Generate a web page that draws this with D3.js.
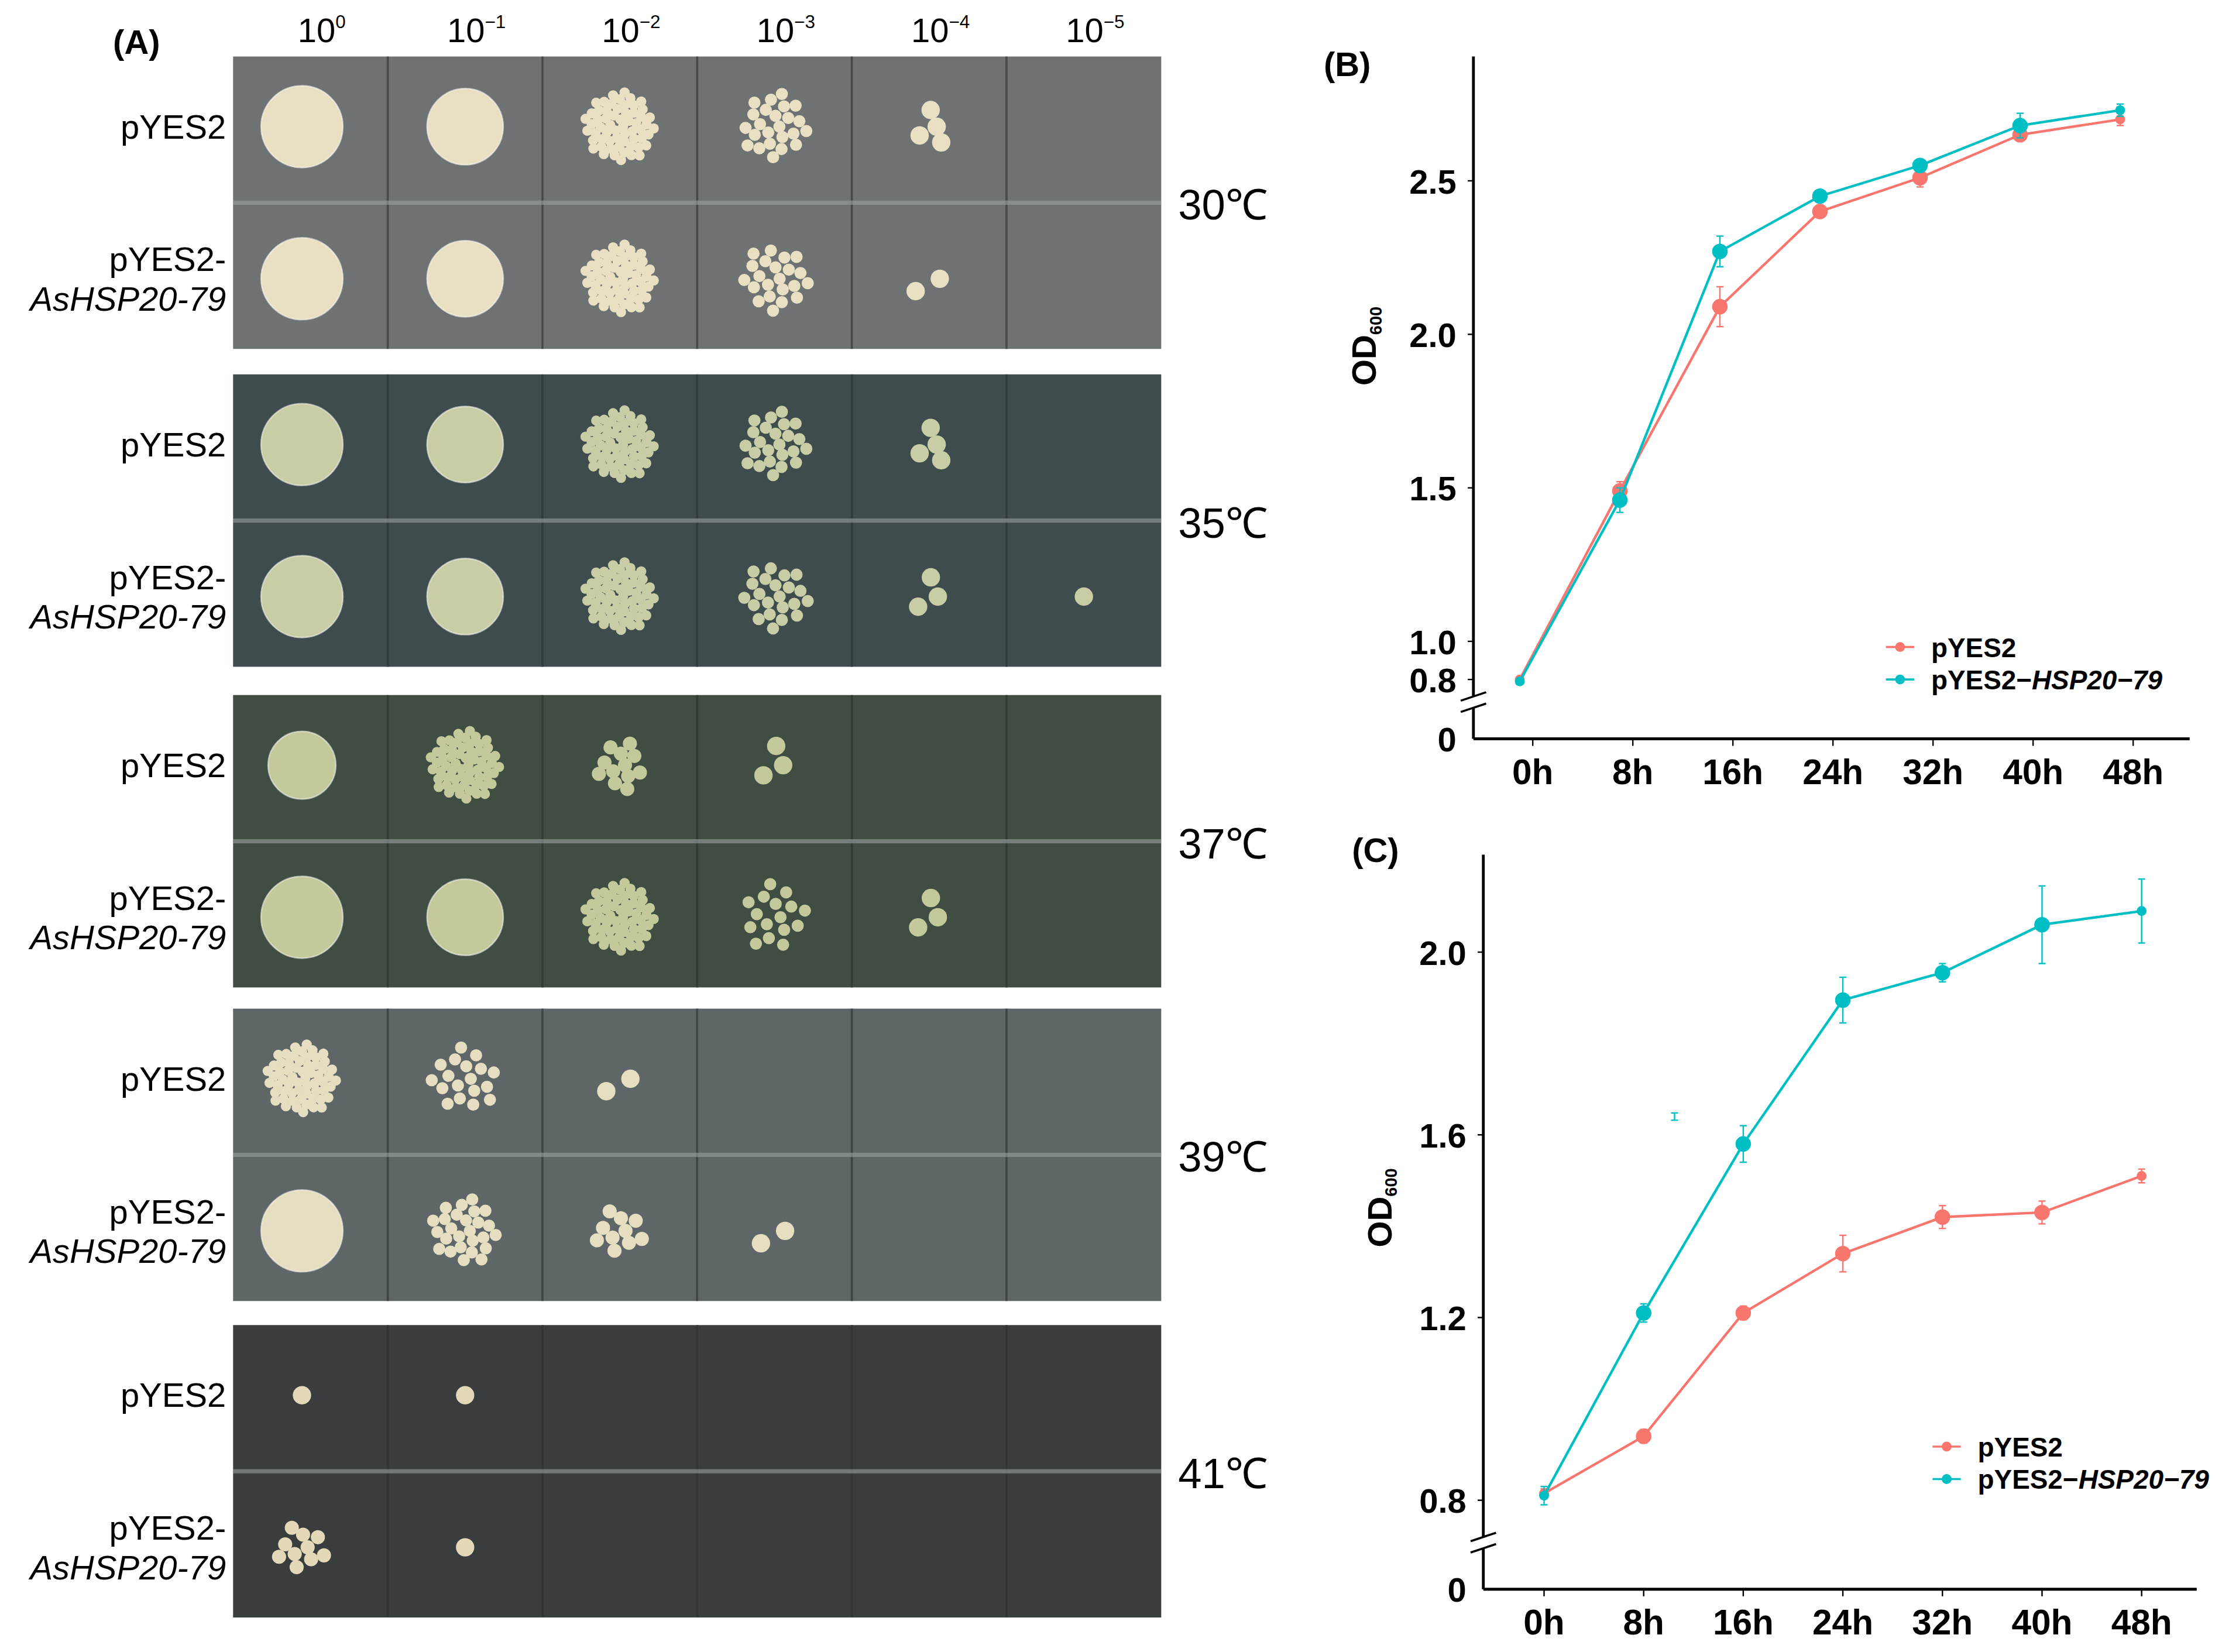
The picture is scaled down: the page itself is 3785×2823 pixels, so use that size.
<!DOCTYPE html>
<html><head><meta charset="utf-8">
<script src="https://cdn.jsdelivr.net/npm/d3@7"></script>
<style>body{margin:0;background:#fff}</style></head>
<body><svg id="c" width="3785" height="2823"></svg>
<script>
// ---------- DATA ----------
const dilutions = ["0","−1","−2","−3","−4","−5"];
const strains = ["pYES2", "AsHSP20-79"];
const temps = ["30℃","35℃","37℃","39℃","41℃"];
// growth per cell: "S" solid spot, "D" dense spot, number = count of colonies
const growth30 = [["S","S","D",24,4,0],["S","S","D",22,2,0]];
const growth35 = [["S","S","D",24,4,0],["S","S","D",22,3,1]];
const growth37 = [["S","D",12,3,0,0],["S","S","D",16,3,0]];
const growth39 = [["D",18,2,0,0,0],["S",26,10,2,0,0]];
const growth41 = [[1,1,0,0,0,0],[10,1,0,0,0,0]];
const growthAll = [growth30,growth35,growth37,growth39,growth41];
const plateColors = ["#6e7273","#3f4c4d","#3f4d42","#5f6668","#3a3d3e"];
const spotColors = ["#e9e0c4","#c9cda6","#c4c99c","#e6dec0","#e3d8b8"];

const hours = ["0h","8h","16h","24h","32h","40h","48h"];
const bRed  = [0.80,1.49,2.09,2.40,2.51,2.65,2.70];
const bRedE = [0.01,0.03,0.065,0.02,0.03,0.015,0.02];
const bCyan = [0.79,1.46,2.27,2.45,2.55,2.68,2.73];
const bCyanE= [0.015,0.04,0.05,0.02,0.02,0.04,0.02];
const cRed  = [0.815,0.94,1.21,1.34,1.42,1.43,1.51];
const cRedE = [0.01,0.015,0.015,0.04,0.025,0.025,0.015];
const cCyan = [0.81,1.21,1.58,1.895,1.955,2.06,2.09];
const cCyanE= [0.02,0.02,0.04,0.05,0.02,0.085,0.07];
const bTicks = [0.8,1.0,1.5,2.0,2.5];
const cTicks = [0.8,1.2,1.6,2.0];
const RED="#f8766d", CYAN="#00bfc4";

// ---------- DRAW ----------
const svg = d3.select("#c");
const g = svg.append("g").attr("transform","scale(2.414)");
const narrow = "'Liberation Sans Narrow','Liberation Sans',Arial,sans-serif";
const bold = "'Liberation Sans',Arial,sans-serif";

// Panel A
const plateX = d3.scaleBand().domain(d3.range(6)).range([165,822]);
const plateTops = [40,265,492,714,938], plateH = 207;
g.append("text").attr("x",80).attr("y",38).text("(A)").attr("font-family",bold)
 .attr("font-weight","bold").attr("font-size",24);
dilutions.forEach((d,i)=>{
  const t=g.append("text").attr("x",plateX(i)+plateX.bandwidth()/2+8).attr("y",30)
   .attr("text-anchor","middle").attr("font-family",narrow).attr("font-size",24);
  t.append("tspan").text("10");
  t.append("tspan").text(d).attr("font-size",13).attr("dy",-10);
});
function colonies(n,R){
  const out=[];const cr = n===1?7: Math.max(4.2, R*0.95/Math.sqrt(n));
  for(let i=0;i<n;i++){const r=n===1?0:R*Math.sqrt((i+0.5)/n);const a=i*2.39996;
    out.push([r*Math.cos(a),r*Math.sin(a),cr]);}
  return out;
}
growthAll.forEach((pl,p)=>{
  const y0=plateTops[p];
  const pg=g.append("g");
  pg.append("rect").attr("x",165).attr("y",y0).attr("width",657).attr("height",plateH).attr("fill",plateColors[p]);
  d3.range(1,6).forEach(i=>pg.append("line").attr("x1",plateX(i)).attr("x2",plateX(i))
    .attr("y1",y0).attr("y2",y0+plateH).attr("stroke","#2c3030").attr("stroke-width",1.5).attr("opacity",0.6));
  pg.append("rect").attr("x",165).attr("y",y0+plateH/2-1.5).attr("width",657).attr("height",3)
    .attr("fill","#9aa0a0").attr("opacity",0.6);
  pl.forEach((row,r)=>{
    const cy=y0+plateH*(r===0?0.24:0.76);
    row.forEach((v,c)=>{
      const cx=plateX(c)+plateX.bandwidth()/2+ (c===0?-6:0);
      if(v==="S"){pg.append("circle").attr("cx",cx).attr("cy",cy).attr("r",p===2&&r===0?24:(c===1?27:29))
          .attr("fill",spotColors[p]).attr("stroke","#fff8").attr("stroke-width",1);}
      else if(v==="D"){
        pg.append("circle").attr("cx",cx).attr("cy",cy).attr("r",26).attr("fill",plateColors[p]).attr("opacity",0.5);
        colonies(60,25).forEach(q=>pg.append("circle").attr("cx",cx+q[0]).attr("cy",cy+q[1]).attr("r",3.6).attr("fill",spotColors[p]));}
      else if(v>0){
        const R = v>15?24: v>5?18: 15;
        colonies(v,R).forEach(q=>pg.append("circle").attr("cx",cx+q[0]).attr("cy",cy+q[1]).attr("r",v>15?4.3:v>5?5:6.5).attr("fill",spotColors[p]));}
    });
  });
  const lab=(y,txt,it)=>g.append("text").attr("x",160).attr("y",y).attr("text-anchor","end")
    .attr("font-family",narrow).attr("font-size",24).attr("font-style",it?"italic":"normal").text(txt);
  lab(y0+58,strains[0]);
  lab(y0+152,"pYES2-");
  lab(y0+180,strains[1],true);
  g.append("text").attr("x",834).attr("y",y0+plateH/2+12).attr("font-family",narrow)
   .attr("font-size",30).text(temps[p]);
});

function chart(o){
  const y=o.y, x=d3.scalePoint().domain(hours).range(o.xr);
  const pg=g.append("g");
  pg.append("text").attr("x",o.lab[0]).attr("y",o.lab[1]).text(o.title).attr("font-family",bold)
    .attr("font-weight","bold").attr("font-size",24);
  pg.append("line").attr("x1",o.ax).attr("x2",o.ax).attr("y1",o.top).attr("y2",o.brk-4).attr("stroke","#000").attr("stroke-width",2);
  pg.append("line").attr("x1",o.ax).attr("x2",o.ax).attr("y1",o.brk+4).attr("y2",o.base).attr("stroke","#000").attr("stroke-width",2);
  [-4,4].forEach(d=>pg.append("line").attr("x1",o.ax-9).attr("x2",o.ax+9).attr("y1",o.brk+d+3).attr("y2",o.brk+d-3).attr("stroke","#000").attr("stroke-width",1.5));
  pg.append("line").attr("x1",o.ax).attr("x2",o.xend).attr("y1",o.base).attr("y2",o.base).attr("stroke","#000").attr("stroke-width",2);
  o.ticks.forEach(t=>{pg.append("line").attr("x1",o.ax-4).attr("x2",o.ax).attr("y1",y(t)).attr("y2",y(t)).attr("stroke","#000");
    pg.append("text").attr("x",o.ax-12).attr("y",y(t)+9).attr("text-anchor","end").attr("font-family",bold)
     .attr("font-weight","bold").attr("font-size",24).text(t.toFixed(1));});
  pg.append("text").attr("x",o.ax-12).attr("y",o.base+9).attr("text-anchor","end").attr("font-family",bold)
     .attr("font-weight","bold").attr("font-size",24).text("0");
  hours.forEach(h=>{pg.append("line").attr("x1",x(h)).attr("x2",x(h)).attr("y1",o.base).attr("y2",o.base+5).attr("stroke","#000");
    pg.append("text").attr("x",x(h)).attr("y",o.base+32).attr("text-anchor","middle").attr("font-family",bold)
     .attr("font-weight","bold").attr("font-size",25).text(h);});
  const yl=pg.append("text").attr("transform",`translate(${o.ylab[0]},${o.ylab[1]}) rotate(-90)`)
    .attr("text-anchor","middle").attr("font-family",bold).attr("font-weight","bold").attr("font-size",24);
  yl.append("tspan").text("OD");yl.append("tspan").text("600").attr("font-size",12).attr("dy",4);
  const dx=o.dodge*(x.step());
  o.series.forEach(s=>{
    const px=i=>x(hours[i])+dx;
    pg.append("path").attr("d",d3.line().x((d,i)=>px(i)).y(d=>y(d))(s.v)).attr("fill","none").attr("stroke",s.c).attr("stroke-width",1.8);
    s.v.forEach((v,i)=>{
      pg.append("line").attr("x1",px(i)).attr("x2",px(i)).attr("y1",y(v-s.e[i])).attr("y2",y(v+s.e[i])).attr("stroke",s.c);
      [v-s.e[i],v+s.e[i]].forEach(w=>pg.append("line").attr("x1",px(i)-2.5).attr("x2",px(i)+2.5).attr("y1",y(w)).attr("y2",y(w)).attr("stroke",s.c));
      pg.append("circle").attr("cx",px(i)).attr("cy",y(v)).attr("r",(i===0||i===6)?3.5:5.5).attr("fill",s.c);
    });
  });
  o.series.forEach((s,k)=>{
    const ly=o.leg[1]+k*23;
    pg.append("line").attr("x1",o.leg[0]-10).attr("x2",o.leg[0]+10).attr("y1",ly).attr("y2",ly).attr("stroke",s.c).attr("stroke-width",1.5);
    pg.append("circle").attr("cx",o.leg[0]).attr("cy",ly).attr("r",3.5).attr("fill",s.c);
    const t=pg.append("text").attr("x",o.leg[0]+22).attr("y",ly+7).attr("font-family",narrow).attr("font-weight","bold").attr("font-size",19);
    t.append("tspan").text(k===0?"pYES2":"pYES2−");
    if(k===1)t.append("tspan").text("HSP20−79").attr("font-style","italic");
  });
  return {x,y,pg};
}
const yB=d3.scaleLinear().domain([0.8,1.0,2.5]).range([481,454,128]);
chart({y:yB,xr:[1085,1510],ax:1043,top:40,base:523,brk:497,xend:1550,ticks:bTicks,dodge:-0.13,
  title:"(B)",lab:[937,54],ylab:[974,245],leg:[1345,458],
  series:[{v:bRed,e:bRedE,c:RED},{v:bCyan,e:bCyanE,c:CYAN}]});
const yC=d3.scaleLinear().domain([0.8,2.0]).range([1062,674]);
const C=chart({y:yC,xr:[1093,1516],ax:1050,top:605,base:1125,brk:1092,xend:1555,ticks:cTicks,dodge:0,
  title:"(C)",lab:[957,610],ylab:[985,855],leg:[1378,1024],
  series:[{v:cRed,e:cRedE,c:RED},{v:cCyan,e:cCyanE,c:CYAN}]});
const sx=C.x("8h")+C.x.step()*0.31;
[[1.632,1.648]].forEach(([a,b])=>{
  C.pg.append("line").attr("x1",sx).attr("x2",sx).attr("y1",yC(a)).attr("y2",yC(b)).attr("stroke",CYAN);
  [a,b].forEach(w=>C.pg.append("line").attr("x1",sx-2.5).attr("x2",sx+2.5).attr("y1",yC(w)).attr("y2",yC(w)).attr("stroke",CYAN));
});
</script></body></html>
